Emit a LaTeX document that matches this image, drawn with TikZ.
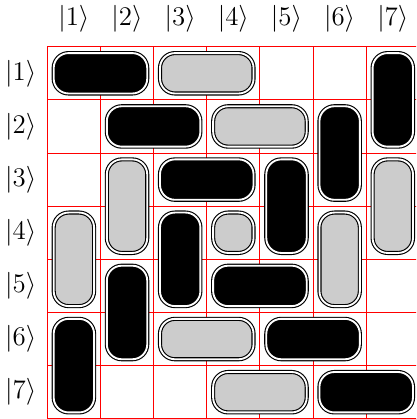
\documentclass[tikz,border=0pt]{standalone}
\usepackage{amsmath}
\begin{document}
\begin{tikzpicture}[
  gridline/.style={red, line width=0.5pt},
  pillbase/.style={draw=black, line width=0.6pt, double=white, double distance=1pt, rounded corners=8pt},
  pillblack/.style={pillbase, fill=black},
  pillgray/.style={pillbase, fill=black!20},
  lbl/.style={font=\Large, inner sep=0pt}
]
\useasboundingbox (-0.890,0.879) rectangle (6.937,-7.004);
\clip (-0.890,0.879) rectangle (6.937,-7.004);
\newcommand{\mypill}[5]{%
  \path[#5] ({#1-1+0.12},{-(#2-1)-0.12}) rectangle ({#3-0.12},{-#4+0.12});}
\draw[gridline] (0,0) grid (7,-7);
\foreach \i in {1,...,7} {
  \node[lbl] (top\i) at (\i-0.5,0.534) {$|\i\rangle$};
  \node[lbl] (left\i) at (-0.50,-\i+0.5) {$|\i\rangle$};
}
% row 1
\mypill{1}{1}{2}{1}{pillblack}
\mypill{3}{1}{4}{1}{pillgray}
\mypill{7}{1}{7}{2}{pillblack}
% row 2
\mypill{2}{2}{3}{2}{pillblack}
\mypill{4}{2}{5}{2}{pillgray}
\mypill{6}{2}{6}{3}{pillblack}
% row 3
\mypill{2}{3}{2}{4}{pillgray}
\mypill{3}{3}{4}{3}{pillblack}
\mypill{5}{3}{5}{4}{pillblack}
\mypill{7}{3}{7}{4}{pillgray}
% row 4
\mypill{1}{4}{1}{5}{pillgray}
\mypill{3}{4}{3}{5}{pillblack}
\mypill{4}{4}{4}{4}{pillgray}
\mypill{6}{4}{6}{5}{pillgray}
% row 5
\mypill{2}{5}{2}{6}{pillblack}
\mypill{4}{5}{5}{5}{pillblack}
% row 6
\mypill{1}{6}{1}{7}{pillblack}
\mypill{3}{6}{4}{6}{pillgray}
\mypill{5}{6}{6}{6}{pillblack}
% row 7
\mypill{4}{7}{5}{7}{pillgray}
\mypill{6}{7}{7}{7}{pillblack}
\end{tikzpicture}
\end{document}
